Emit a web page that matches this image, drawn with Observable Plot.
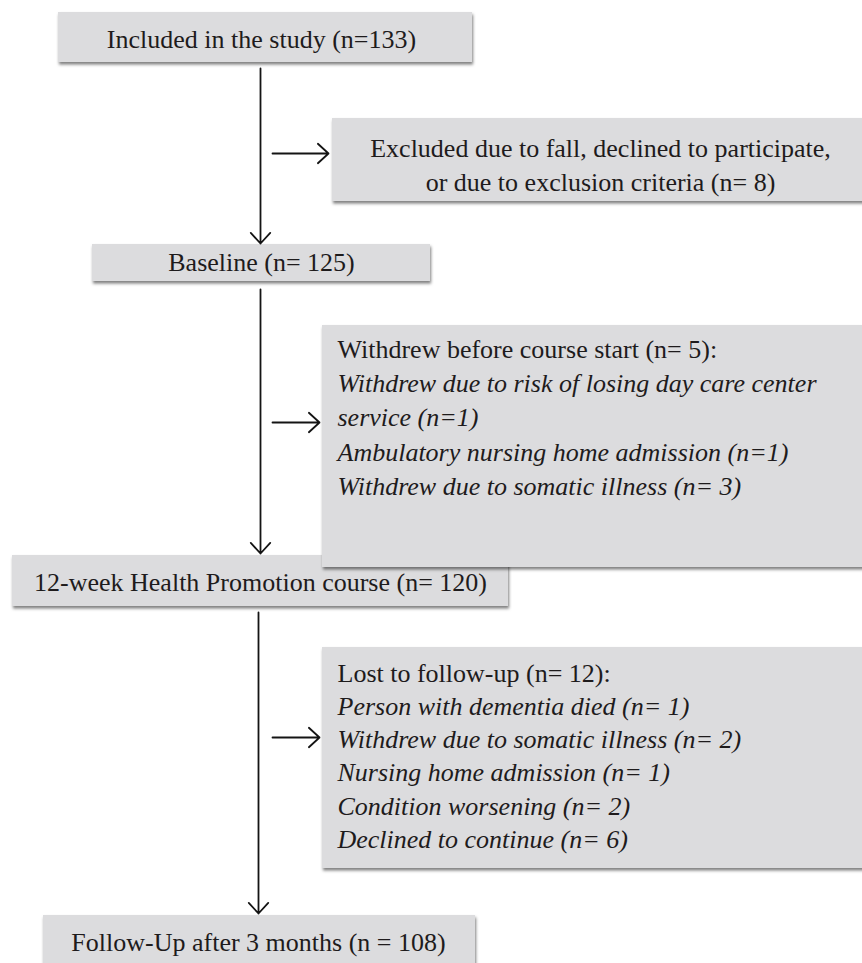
<!DOCTYPE html>
<html>
<head>
<meta charset="utf-8">
<script src="https://cdn.jsdelivr.net/npm/d3@7"></script>
<script src="https://cdn.jsdelivr.net/npm/@observablehq/plot@0.6"></script>
<style>
  html, body { margin: 0; padding: 0; background: #fff; }
</style>
</head>
<body>
<div id="chart"></div>
<script>
// ---- Data (text content of the flow diagram) ----
const stageLabels = [
  "Included in the study (n=133)",
  "Baseline (n= 125)",
  "12-week Health Promotion course (n= 120)",
  "Follow-Up after 3 months (n = 108)"
];
const excludedLines = [
  "Excluded due to fall, declined to participate,",
  "or due to exclusion criteria (n= 8)"
];
const withdrewHeader = "Withdrew before course start (n= 5):";
const withdrewReasons = [
  "Withdrew due to risk of losing day care center",
  "service (n=1)",
  "Ambulatory nursing home admission (n=1)",
  "Withdrew due to somatic illness (n= 3)"
];
const lostHeader = "Lost to follow-up (n= 12):";
const lostReasons = [
  "Person with dementia died (n= 1)",
  "Withdrew due to somatic illness (n= 2)",
  "Nursing home admission (n= 1)",
  "Condition worsening (n= 2)",
  "Declined to continue (n= 6)"
];

// ---- Layout (pixel coordinates of the diagram) ----
const W = 862, H = 963;
const stageLayout = [
  {x1: 58, x2: 472, y1: 12, y2: 62, tx: 261, ty: 39},
  {x1: 92, x2: 430, y1: 244, y2: 281, tx: 261, ty: 262},
  {x1: 12, x2: 508, y1: 555, y2: 606, tx: 260, ty: 582},
  {x1: 43, x2: 475, y1: 915, y2: 975, tx: 258, ty: 942}
];
const sideLayout = [
  {x1: 332, x2: 875, y1: 118, y2: 201},
  {x1: 322, x2: 875, y1: 325, y2: 567},
  {x1: 322, x2: 875, y1: 647, y2: 868}
];
const excludedText = {x: 600, y0: 148, lh: 34};
const withdrewText = {x: 337, y0: 349, lh: 34.3};
const lostText = {x: 337, y0: 673, lh: 33.2};

const stages = stageLabels.map((label, i) => ({label, ...stageLayout[i]}));
const boxes = [...stageLayout, ...sideLayout];

const mainArrows = [
  {x1: 260, y1: 68, x2: 260, y2: 243},
  {x1: 260, y1: 289, x2: 260, y2: 553},
  {x1: 258, y1: 612, x2: 258, y2: 913}
];
const sideArrows = [
  {x1: 272, y1: 153, x2: 328, y2: 153},
  {x1: 272, y1: 422, x2: 319, y2: 422},
  {x1: 272, y1: 737, x2: 319, y2: 737}
];

const centeredLines = excludedLines.map((t, i) => ({t, x: excludedText.x, y: excludedText.y0 + i * excludedText.lh}));
const headerLines = [
  {t: withdrewHeader, x: withdrewText.x, y: withdrewText.y0},
  {t: lostHeader, x: lostText.x, y: lostText.y0}
];
const italicLines = [
  ...withdrewReasons.map((t, i) => ({t, x: withdrewText.x, y: withdrewText.y0 + (i + 1) * withdrewText.lh})),
  ...lostReasons.map((t, i) => ({t, x: lostText.x, y: lostText.y0 + (i + 1) * lostText.lh}))
];

const FONT = "Liberation Serif";
const FS = 26;
const TEXT_FILL = "#1e1b1c";
const arrowStyle = {stroke: "#141414", strokeWidth: 1.8, headLength: 12, headAngle: 85};

const chart = Plot.plot({
  width: W,
  height: H,
  margin: 0,
  style: {background: "#fff", overflow: "hidden"},
  x: {domain: [0, W], range: [0, W], axis: null},
  y: {domain: [0, H], range: [0, H], axis: null},
  marks: [
    Plot.rect(boxes, {x1: "x1", x2: "x2", y1: "y1", y2: "y2", fill: "#dcdcde"}),
    Plot.arrow(mainArrows, {x1: "x1", y1: "y1", x2: "x2", y2: "y2", ...arrowStyle}),
    Plot.arrow(sideArrows, {x1: "x1", y1: "y1", x2: "x2", y2: "y2", ...arrowStyle}),
    Plot.text(stages, {x: "tx", y: "ty", text: "label", fontFamily: FONT, fontSize: FS, fill: TEXT_FILL, textAnchor: "middle"}),
    Plot.text(centeredLines, {x: "x", y: "y", text: "t", fontFamily: FONT, fontSize: FS, fill: TEXT_FILL, textAnchor: "middle"}),
    Plot.text(headerLines, {x: "x", y: "y", text: "t", fontFamily: FONT, fontSize: FS, fill: TEXT_FILL, textAnchor: "start"}),
    Plot.text(italicLines, {x: "x", y: "y", text: "t", fontFamily: FONT, fontSize: FS, fontStyle: "italic", fill: TEXT_FILL, textAnchor: "start"})
  ]
});

// Soft drop shadow for the boxes
const ns = "http://www.w3.org/2000/svg";
const defs = document.createElementNS(ns, "defs");
const filter = document.createElementNS(ns, "filter");
filter.setAttribute("id", "boxShadow");
filter.setAttribute("x", "-5%"); filter.setAttribute("y", "-20%");
filter.setAttribute("width", "110%"); filter.setAttribute("height", "150%");
const ds = document.createElementNS(ns, "feDropShadow");
ds.setAttribute("dx", "1"); ds.setAttribute("dy", "2.5");
ds.setAttribute("stdDeviation", "1.4");
ds.setAttribute("flood-color", "#000"); ds.setAttribute("flood-opacity", "0.5");
filter.appendChild(ds);
defs.appendChild(filter);
chart.insertBefore(defs, chart.firstChild);
chart.querySelectorAll('g[aria-label="rect"] rect').forEach(r => r.setAttribute("filter", "url(#boxShadow)"));

document.getElementById("chart").appendChild(chart);
</script>
</body>
</html>
